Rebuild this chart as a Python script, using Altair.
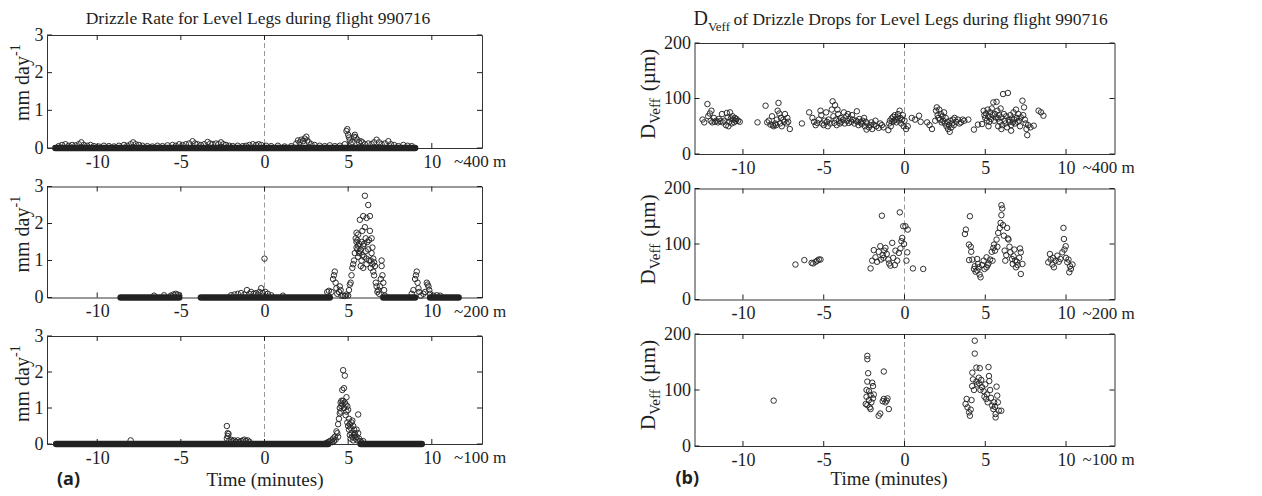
import altair as alt
import pandas as pd

FONT = "Liberation Serif"
INK = "#1e1e1e"

X_DOMAIN = [-13, 13]
X_TICKS = [-10, -5, 0, 5, 10]
RATE_DOMAIN = [0, 3]
RATE_TICKS = [0, 1, 2, 3]
DV_DOMAIN = [0, 200]
DV_TICKS = [0, 100, 200]
LEVELS = ["~400 m", "~200 m", "~100 m"]
LEFT_TITLE = "Drizzle Rate for Level Legs during flight 990716"
RIGHT_TITLE_MAIN = "D"
RIGHT_TITLE_SUB = "Veff"
RIGHT_TITLE_REST = "of Drizzle Drops for Level Legs during flight 990716"
LEFT_YLABEL = "mm day"
LEFT_YLABEL_SUP = "-1"
RIGHT_YLABEL_MAIN = "D"
RIGHT_YLABEL_SUB = "Veff"
RIGHT_YLABEL_REST = "(\u00b5m)"
X_LABEL = "Time (minutes)"
PANEL_TAGS = ["(a)", "(b)"]

# ---- drizzle rate (mm/day): runs of zero values (start, end in minutes) ----
A1_ZERO_START = [-12.5]
A1_ZERO_END = [9.0]
A2_ZERO_START = [-8.6, -3.8, 7.1, 9.9]
A2_ZERO_END = [-5.1, 3.9, 9.0, 11.6]
A3_ZERO_START = [-12.45, 5.75]
A3_ZERO_END = [3.8, 9.4]

# ---- drizzle rate, non-zero samples (time min, rate mm/day) ----
A1_POINTS = [(-12.3,0.05),(-12.1,0.08),(-11.9,0.1),(-11.7,0.06),(-11.5,0.08),(-11.3,0.07),(-11.1,0.1),
    (-10.95,0.15),(-10.8,0.08),(-10.6,0.06),(-10.4,0.08),(-10.2,0.05),(-9.9,0.04),(-9.6,0.06),(-9.3,0.05),
    (-9.0,0.04),(-8.7,0.06),(-8.4,0.08),(-8.2,0.06),(-8.0,0.1),(-7.85,0.15),(-7.7,0.1),(-7.5,0.08),(-7.3,0.06),
    (-7.0,0.05),(-6.7,0.04),(-6.4,0.06),(-6.1,0.05),(-5.8,0.07),(-5.5,0.08),(-5.3,0.06),(-5.1,0.1),(-4.9,0.08),
    (-4.7,0.1),(-4.5,0.12),(-4.3,0.18),(-4.15,0.12),(-4.0,0.1),(-3.8,0.08),(-3.6,0.1),(-3.4,0.16),(-3.25,0.12),
    (-3.1,0.1),(-2.9,0.12),(-2.75,0.1),(-2.6,0.15),(-2.45,0.1),(-2.3,0.08),(-2.1,0.06),(-1.9,0.05),(-1.6,0.06),
    (-1.3,0.05),(-1.1,0.06),(-0.9,0.08),(-0.7,0.1),(-0.5,0.08),(-0.35,0.1),(-0.2,0.08),(0.1,0.06),(0.4,0.05),
    (0.8,0.06),(1.2,0.04),(1.6,0.05),(1.9,0.12),(2.0,0.2),(2.1,0.15),(2.2,0.22),(2.3,0.18),(2.4,0.25),(2.5,0.3),
    (2.55,0.2),(2.65,0.15),(2.8,0.1),(3.0,0.08),(3.3,0.06),(3.6,0.05),(3.9,0.07),(4.2,0.05),(4.5,0.06),(4.8,0.1),
    (4.9,0.45),(4.95,0.5),(5.0,0.35),(5.05,0.28),(5.1,0.2),(5.15,0.12),(5.25,0.15),(5.35,0.3),(5.4,0.35),
    (5.45,0.28),(5.55,0.22),(5.65,0.15),(5.75,0.18),(5.85,0.15),(6.0,0.1),(6.2,0.12),(6.4,0.1),(6.55,0.15),
    (6.7,0.22),(6.85,0.15),(7.0,0.1),(7.2,0.12),(7.4,0.18),(7.55,0.1),(7.75,0.08),(8.0,0.05),(8.3,0.08),
    (8.55,0.06),(8.8,0.05)]

A2_POINTS = [(-6.6,0.05),(-6.0,0.06),(-5.6,0.05),(-5.45,0.08),(-5.3,0.1),(-5.2,0.08),(-5.1,0.06),
    (-2.0,0.06),(-1.8,0.08),(-1.6,0.1),(-1.4,0.12),(-1.2,0.08),(-1.05,0.2),(-0.9,0.1),(-0.8,0.15),(-0.65,0.1),
    (-0.5,0.12),(-0.4,0.08),(-0.3,0.15),(-0.2,0.25),(-0.1,0.12),(0.0,1.05),(0.05,0.15),(0.2,0.1),(0.4,0.06),
    (1.1,0.05),(3.75,0.15),(3.85,0.18),(4.0,0.15),(4.1,0.5),(4.15,0.6),(4.2,0.7),(4.25,0.4),(4.3,0.25),
    (4.35,0.1),(4.45,0.15),(4.5,0.3),(4.55,0.2),(4.6,0.05),(4.7,0.05),(4.8,0.04),(4.9,0.08),(5.0,0.05),
    (5.05,0.2),(5.1,0.35),(5.15,0.4),(5.2,0.6),(5.25,0.8),(5.3,0.9),(5.35,1.0),(5.4,1.2),(5.45,1.6),(5.5,1.75),
    (5.5,1.5),(5.5,1.35),(5.55,1.3),(5.55,1.55),(5.6,1.7),(5.6,1.4),(5.6,1.1),(5.65,1.2),(5.65,1.45),(5.7,2.1),
    (5.7,1.25),(5.75,1.3),(5.75,0.85),(5.8,1.5),(5.8,1.0),(5.85,1.8),(5.85,1.15),(5.9,2.2),(5.9,1.4),(5.9,0.8),
    (5.95,1.1),(5.95,1.45),(6.0,2.75),(6.0,1.9),(6.05,1.6),(6.05,1.25),(6.1,2.15),(6.1,1.05),(6.1,0.9),
    (6.15,1.5),(6.2,2.5),(6.2,1.3),(6.25,1.0),(6.25,1.55),(6.3,2.2),(6.3,1.8),(6.35,0.8),(6.35,1.0),(6.4,1.6),
    (6.4,1.2),(6.45,0.9),(6.45,1.35),(6.5,1.05),(6.5,0.7),(6.55,0.6),(6.55,0.95),(6.6,0.85),(6.65,0.4),
    (6.7,0.3),(6.75,0.15),(6.8,0.2),(6.85,0.1),(6.9,0.3),(6.95,0.5),(7.0,0.85),(7.0,1.0),(7.05,0.6),(7.1,0.4),
    (7.15,0.2),(7.2,0.05),(8.8,0.1),(8.9,0.2),(9.0,0.5),(9.05,0.6),(9.1,0.7),(9.15,0.4),(9.2,0.25),(9.25,0.15),
    (9.35,0.05),(9.5,0.1),(9.6,0.15),(9.7,0.4),(9.75,0.35),(9.8,0.3),(9.85,0.2),(9.9,0.1),(10.1,0.05),
    (10.3,0.06),(10.5,0.05)]

A3_POINTS = [(-8.0,0.1),
    (-2.25,0.5),(-2.2,0.3),(-2.15,0.28),(-2.2,0.22),(-2.25,0.15),(-2.1,0.1),(-2.0,0.12),(-1.9,0.08),(-1.8,0.1),
    (-1.7,0.06),(-1.6,0.1),(-1.5,0.05),(-1.4,0.08),(-1.3,0.1),(-1.2,0.12),(-1.1,0.08),(-1.0,0.1),(-0.9,0.06),
    (3.7,0.03),(3.8,0.05),(3.9,0.08),(4.0,0.1),(4.05,0.05),(4.1,0.15),(4.15,0.08),(4.2,0.2),(4.25,0.12),
    (4.3,0.35),(4.35,0.3),(4.4,0.55),(4.4,0.2),(4.45,0.7),(4.5,0.85),(4.5,1.0),(4.55,1.15),(4.55,0.9),(4.6,1.2),
    (4.6,1.05),(4.65,1.5),(4.65,1.1),(4.7,2.05),(4.7,1.2),(4.75,1.55),(4.75,1.0),(4.8,1.9),(4.8,1.15),(4.85,1.1),
    (4.85,0.8),(4.9,1.3),(4.9,0.9),(4.95,1.05),(4.95,0.6),(5.0,0.95),(5.0,0.5),(5.05,0.4),(5.05,0.7),(5.1,0.55),
    (5.1,0.25),(5.15,0.45),(5.15,0.15),(5.2,0.6),(5.2,0.3),(5.25,0.65),(5.25,0.2),(5.3,0.5),(5.3,0.1),
    (5.35,0.4),(5.35,0.25),(5.4,0.3),(5.45,0.15),(5.5,0.2),(5.5,0.4),(5.55,0.1),(5.6,0.82),(5.6,0.3),
    (5.65,0.15),(5.7,0.08),(5.8,0.05),(5.9,0.08)]

# ---- drizzle drop D_Veff (time min, micrometres) ----
B1_POINTS = [(-12.5,62),(-12.4,57),(-12.2,90),(-12.15,68),(-12.05,73),(-12.0,60),(-11.95,78),(-11.9,57),
    (-11.8,65),(-11.75,58),(-11.65,60),(-11.55,57),(-11.5,63),(-11.4,59),(-11.3,72),(-11.25,57),(-11.15,60),
    (-11.05,52),(-11.0,74),(-10.95,66),(-10.9,50),(-10.85,58),(-10.8,75),(-10.75,64),(-10.7,55),(-10.65,68),
    (-10.6,62),(-10.55,57),(-10.5,65),(-10.45,60),(-10.4,63),(-10.3,60),(-10.2,58),
    (-9.1,57),(-8.6,87),(-8.5,57),(-8.4,60),(-8.3,53),(-8.2,68),(-8.15,52),(-8.1,50),(-8.0,55),(-7.95,52),
    (-7.9,62),(-7.85,78),(-7.8,92),(-7.75,73),(-7.7,55),(-7.65,65),(-7.6,50),(-7.5,62),(-7.45,58),(-7.4,72),
    (-7.3,55),(-7.25,65),(-7.2,58),(-7.1,45),
    (-6.35,55),(-5.9,75),(-5.7,65),(-5.6,58),(-5.5,52),(-5.4,56),(-5.3,62),(-5.2,78),(-5.15,70),(-5.1,55),
    (-5.0,52),(-4.95,60),(-4.85,75),(-4.8,58),(-4.75,50),(-4.7,62),(-4.6,55),(-4.5,80),(-4.45,95),(-4.4,68),
    (-4.35,56),(-4.3,88),(-4.25,62),(-4.2,52),(-4.15,80),(-4.1,72),(-4.05,60),(-4.0,55),(-3.95,65),(-3.9,58),
    (-3.8,62),(-3.75,75),(-3.7,55),(-3.6,68),(-3.55,60),(-3.5,72),(-3.45,56),(-3.4,64),(-3.3,58),(-3.25,70),
    (-3.2,62),(-3.1,55),(-3.0,60),(-2.95,77),(-2.9,58),(-2.85,52),(-2.8,63),(-2.7,57),(-2.65,54),(-2.6,60),
    (-2.5,65),(-2.45,50),(-2.4,58),(-2.35,44),(-2.3,55),(-2.2,48),(-2.1,52),(-2.05,57),(-2.0,45),(-1.9,53),
    (-1.8,60),(-1.75,50),(-1.6,47),(-1.5,55),(-1.4,52),(-1.3,48),
    (-1.0,43),(-0.95,55),(-0.9,60),(-0.85,50),(-0.8,64),(-0.75,58),(-0.7,67),(-0.65,60),(-0.6,70),(-0.55,62),
    (-0.5,57),(-0.45,66),(-0.4,72),(-0.35,60),(-0.3,78),(-0.25,65),(-0.2,55),(-0.15,62),(-0.1,70),(-0.05,50),
    (0.0,60),(0.1,45),(0.2,50),
    (0.45,65),(0.65,62),(0.9,69),(1.0,58),(1.4,57),(1.55,52),(1.7,45),
    (1.9,60),(1.95,78),(2.0,84),(2.05,70),(2.1,65),(2.15,80),(2.2,62),(2.25,72),(2.3,57),(2.35,68),(2.4,60),
    (2.45,75),(2.5,55),(2.55,65),(2.6,50),(2.65,58),(2.7,45),(2.75,52),(2.8,40),(2.85,60),(2.9,48),(2.95,55),
    (3.0,62),(3.05,52),(3.1,65),(3.2,58),(3.3,62),(3.4,55),(3.5,57),(3.6,62),(3.7,60),(3.95,62),
    (4.3,44),(4.55,53),(4.8,54),
    (4.9,78),(4.95,70),(5.0,65),(5.05,73),(5.1,60),(5.15,80),(5.2,68),(5.2,50),(5.25,58),(5.3,75),(5.35,63),
    (5.4,82),(5.45,70),(5.5,93),(5.55,60),(5.6,72),(5.65,66),(5.7,94),(5.75,78),(5.8,64),(5.8,50),(5.85,70),
    (5.9,58),(5.95,82),(6.0,66),(6.0,45),(6.05,52),(6.1,108),(6.15,72),(6.2,60),(6.25,55),(6.3,68),(6.35,48),
    (6.4,110),(6.45,62),(6.5,58),(6.55,70),(6.6,52),(6.6,42),(6.65,64),(6.7,57),(6.75,75),(6.8,62),(6.85,55),
    (6.9,80),(6.95,65),(7.0,58),(7.05,72),(7.1,60),(7.15,50),(7.2,66),(7.3,96),(7.35,70),(7.4,84),(7.45,62),
    (7.5,55),(7.55,45),(7.6,34),(7.65,52),(7.8,48),(8.0,51),(8.3,78),(8.45,75),(8.6,69)]

B2_POINTS = [(-6.75,63),(-6.2,71),(-5.75,66),(-5.65,65),(-5.5,68),(-5.4,70),(-5.3,72),(-5.2,72),
    (-2.1,56),(-2.0,70),(-1.9,89),(-1.8,76),(-1.7,68),(-1.6,86),(-1.5,96),(-1.45,72),(-1.4,151),(-1.35,80),
    (-1.3,75),(-1.25,88),(-1.18,93),(-1.1,82),(-1.0,72),(-0.95,65),(-0.87,61),(-0.76,102),(-0.7,75),
    (-0.6,62),(-0.56,88),(-0.45,70),(-0.35,84),(-0.29,157),(-0.25,92),(-0.19,105),(-0.14,111),(-0.08,132),
    (-0.03,100),(0.06,132),(0.12,70),(0.17,85),(0.2,126),(0.52,56),(1.16,55),
    (3.74,118),(3.8,126),(3.99,99),(4.05,150),(4.1,95),(4.13,86),(4.0,71),(4.2,72),(4.3,55),(4.35,60),
    (4.4,50),(4.5,73),(4.5,52),(4.55,64),(4.6,58),(4.65,45),(4.71,40),(4.8,62),(4.9,70),(4.95,55),(5.08,76),
    (5.08,58),(5.15,62),(5.2,65),(5.3,72),(5.4,86),(5.45,70),(5.5,93),(5.54,99),(5.6,88),(5.7,108),(5.75,95),
    (5.8,120),(5.9,129),(5.95,138),(6.0,152),(6.0,170),(6.05,164),(6.1,134),(6.15,115),(6.2,88),(6.24,70),
    (6.3,80),(6.35,129),(6.4,110),(6.44,108),(6.5,95),(6.55,85),(6.65,73),(6.7,64),(6.75,78),(6.8,90),
    (6.85,70),(6.9,58),(6.95,68),(7.0,62),(7.1,75),(7.15,92),(7.2,85),(7.2,46),(7.3,64),
    (8.9,67),(9.0,82),(9.05,72),(9.15,63),(9.2,75),(9.25,58),(9.35,70),(9.46,79),(9.55,68),(9.65,73),
    (9.77,85),(9.84,129),(9.87,109),(9.9,90),(9.98,96),(10.0,75),(10.08,67),(10.15,72),(10.2,49),(10.25,60),
    (10.3,55),(10.4,63)]

B3_POINTS = [(-8.1,81),
    (-2.3,161),(-2.3,155),(-2.25,130),(-2.3,115),(-2.35,100),(-2.2,98),(-2.35,88),(-2.4,75),(-2.3,73),
    (-2.2,82),(-2.1,91),(-2.05,78),(-2.0,113),(-1.95,107),(-1.95,85),(-1.9,92),(-2.1,66),(-2.15,69),
    (-1.6,54),(-1.5,58),(-1.28,133),(-1.28,84),(-1.18,78),(-1.1,81),(-1.05,85),(-1.35,80),(-0.97,66),
    (3.78,75),(3.85,84),(3.9,69),(4.0,60),(4.05,54),(4.1,65),(4.15,82),(4.19,107),(4.2,131),(4.24,119),
    (4.3,100),(4.35,188),(4.35,165),(4.45,140),(4.45,115),(4.5,110),(4.6,122),(4.62,112),(4.66,139),
    (4.7,100),(4.75,118),(4.8,105),(4.9,98),(4.95,88),(5.0,110),(5.06,84),(5.1,92),(5.15,78),(5.2,141),
    (5.23,125),(5.25,116),(5.3,100),(5.35,86),(5.43,72),(5.5,66),(5.55,78),(5.6,70),(5.64,57),(5.64,51),
    (5.7,106),(5.74,90),(5.78,78),(5.84,63),(5.99,63)]

LW, RW = 435, 420
LH = [113, 111, 108]
RH = [111, 111, 112]


def text_layer(s, x, y, size, **kw):
    return alt.Chart(pd.DataFrame({"s": [s]})).mark_text(
        font=kw.pop("font", FONT), fontSize=size, color=INK, **kw
    ).encode(x=alt.value(x), y=alt.value(y), text="s:N")


def panel(points, zs, ze, ydom, yticks, w, h, row, col):
    xsc = alt.Scale(domain=X_DOMAIN, nice=False, zero=False)
    ysc = alt.Scale(domain=ydom, nice=False, zero=False)
    bottom = row == 2
    xaxis_kw = dict(values=X_TICKS, labelExpr="datum.value + ''", ticks=False, domain=False, grid=False,
                    labelPadding=5, labelFontSize=18, labelFont=FONT, labelColor=INK,
                    titleFont=FONT, titleFontSize=19, titleFontWeight="normal", titleColor=INK,
                    titlePadding=3 if col == 0 else 0)
    if bottom and col == 1:
        xaxis_kw["titleX"] = w / 2 - 16
    xaxis = alt.Axis(**xaxis_kw)
    yaxis = alt.Axis(values=yticks, format="d", ticks=False, domain=False, grid=False,
                     labelPadding=4, labelFontSize=18, labelFont=FONT, labelColor=INK)
    xtitle = X_LABEL if bottom else None

    def X(field):
        return alt.X(field, scale=xsc, axis=xaxis, title=xtitle)

    def Y(field):
        return alt.Y(field, scale=ysc, axis=yaxis, title=None)

    layers = []
    layers.append(alt.Chart(pd.DataFrame({"t": [0]})).mark_rule(
        color="#9a9a9a", strokeDash=[5, 3], strokeWidth=1).encode(x=X("t:Q")))
    if zs:
        zdf = pd.DataFrame({"t": zs, "e": ze, "v": [ydom[0]] * len(zs)})
        layers.append(alt.Chart(zdf).mark_rule(strokeWidth=6.5, color="#222222", strokeCap="round").encode(
            x=X("t:Q"), x2="e:Q", y=Y("v:Q")))
    pdf = pd.DataFrame(points, columns=["t", "v"])
    layers.append(alt.Chart(pdf).mark_point(shape="circle", filled=False, size=30, strokeWidth=0.95,
                                            color="#262626", opacity=1).encode(x=X("t:Q"), y=Y("v:Q")))

    xt = pd.DataFrame({"t": X_TICKS})
    yt = pd.DataFrame({"v": yticks})
    ts = dict(color=INK, strokeWidth=1)
    layers.append(alt.Chart(xt).mark_rule(**ts).encode(x=X("t:Q"), y=alt.value(h), y2=alt.value(h - 5)))
    layers.append(alt.Chart(xt).mark_rule(**ts).encode(x=X("t:Q"), y=alt.value(0), y2=alt.value(5)))
    layers.append(alt.Chart(yt).mark_rule(**ts).encode(y=Y("v:Q"), x=alt.value(0), x2=alt.value(5)))
    layers.append(alt.Chart(yt).mark_rule(**ts).encode(y=Y("v:Q"), x=alt.value(w), x2=alt.value(w - 5)))

    layers.append(text_layer(LEVELS[row], 407 if col == 0 else 388, h + 19, 17,
                             align="left", baseline="alphabetic"))
    if col == 0:
        layers.append(text_layer(LEFT_YLABEL, -24, 86, 20, align="left", baseline="middle", angle=270))
        layers.append(text_layer(LEFT_YLABEL_SUP, -31, 86 - 65, 14, align="left", baseline="middle",
                                 angle=270))
    else:
        y0 = 96
        layers.append(text_layer(RIGHT_YLABEL_MAIN, -46, y0, 21, align="left", baseline="middle", angle=270))
        layers.append(text_layer(RIGHT_YLABEL_SUB, -40, y0 - 15.2, 15, align="left", baseline="middle", angle=270))
        layers.append(text_layer(RIGHT_YLABEL_REST, -46, y0 - 15.2 - 27.5 - 5, 21, align="left",
                                 baseline="middle", angle=270))
    if row == 0:
        if col == 0:
            layers.append(text_layer(LEFT_TITLE, 211, -11, 17.5, align="center", baseline="alphabetic"))
        else:
            layers.append(text_layer(RIGHT_TITLE_MAIN, -1, -18, 20, align="left", baseline="alphabetic"))
            layers.append(text_layer(RIGHT_TITLE_SUB, 13.4, -12, 13, align="left", baseline="alphabetic"))
            layers.append(text_layer(RIGHT_TITLE_REST, 39, -18, 17.5, align="left", baseline="alphabetic"))
    if bottom:
        layers.append(text_layer(PANEL_TAGS[col], 10 if col == 0 else -19, h + 36 if col == 0 else h + 33, 18,
                                 font="Open Sans", fontWeight="bold", align="left", baseline="middle"))
    return alt.layer(*layers).properties(width=w, height=h)


left = alt.vconcat(
    panel(A1_POINTS, A1_ZERO_START, A1_ZERO_END, RATE_DOMAIN, RATE_TICKS, LW, LH[0], 0, 0),
    panel(A2_POINTS, A2_ZERO_START, A2_ZERO_END, RATE_DOMAIN, RATE_TICKS, LW, LH[1], 1, 0),
    panel(A3_POINTS, A3_ZERO_START, A3_ZERO_END, RATE_DOMAIN, RATE_TICKS, LW, LH[2], 2, 0),
    spacing=38.5, bounds="flush",
)
right_panels = alt.vconcat(
    panel(B1_POINTS, [], [], DV_DOMAIN, DV_TICKS, RW, RH[0], 0, 1),
    panel(B2_POINTS, [], [], DV_DOMAIN, DV_TICKS, RW, RH[1], 1, 1),
    panel(B3_POINTS, [], [], DV_DOMAIN, DV_TICKS, RW, RH[2], 2, 1),
    spacing=34.5, bounds="flush",
)
spacer = alt.Chart(pd.DataFrame({"s": [" "]})).mark_text(opacity=0).encode(
    x=alt.value(0), y=alt.value(0), text="s:N"
).properties(width=RW, height=8, view=alt.ViewBackground(stroke="transparent"))
right = alt.vconcat(spacer, right_panels, spacing=0, bounds="flush")

chart = (
    alt.hconcat(left, right, spacing=129.5)
    .properties(padding=0, background="white")
    .configure_view(stroke="#333333", strokeWidth=1)
)

chart.save("out.html", embed_options={"renderer": "svg", "actions": False})
